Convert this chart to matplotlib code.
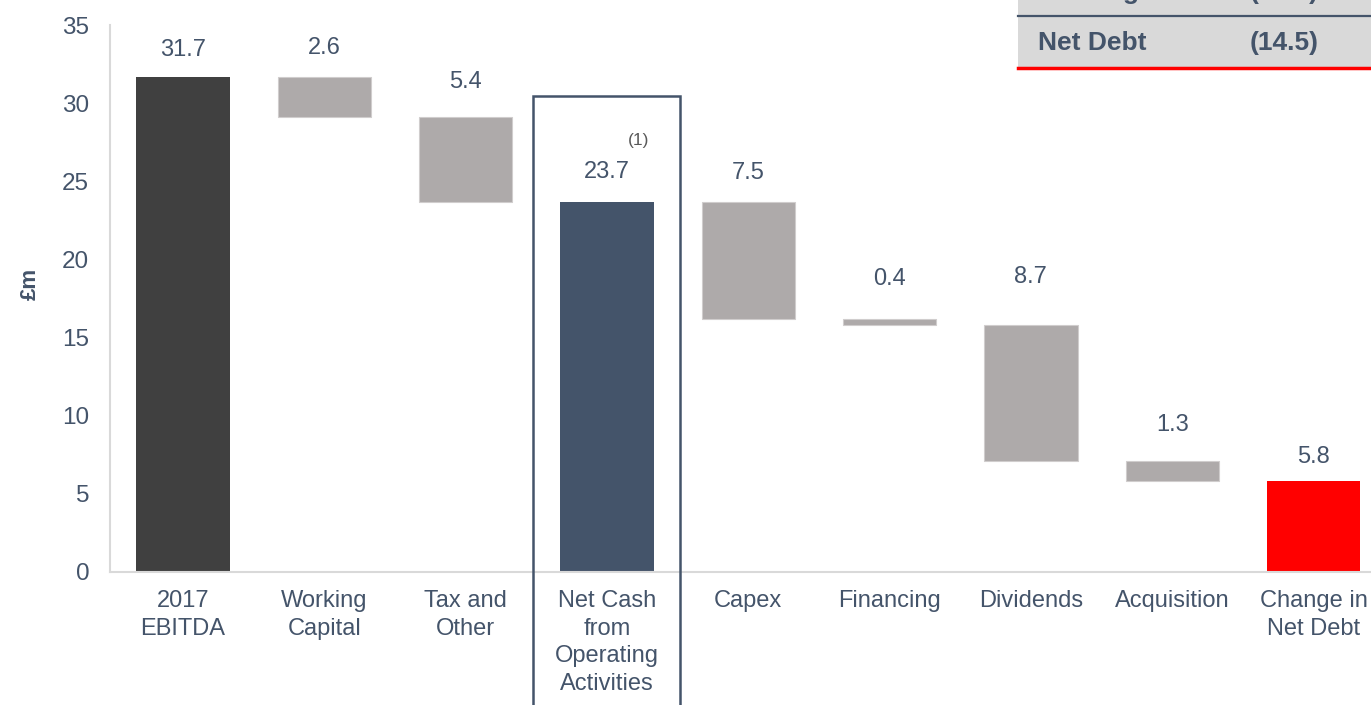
import matplotlib
matplotlib.use("Agg")
import matplotlib.pyplot as plt
from matplotlib.patches import Rectangle

plt.rcParams['font.family'] = ['Liberation Sans', 'DejaVu Sans']

# Cash flow bridge, £m
categories = ["2017\nEBITDA", "Working\nCapital", "Tax and\nOther",
              "Net Cash\nfrom\nOperating\nActivities", "Capex", "Financing",
              "Dividends", "Acquisition", "Change in\nNet Debt"]
values = [31.7, 2.6, 5.4, 23.7, 7.5, 0.4, 8.7, 1.3, 5.8]
is_total = [True, False, False, True, False, False, False, False, True]

table_rows = ["Leverage", "Net Debt"]
table_vals = ["(0.5x)", "(14.5)"]

TEXT = '#44546a'
GREY = '#aeaaaa'
colors = ['#404040', GREY, GREY, '#44546a', GREY, GREY, GREY, GREY, '#ff0000']
# gap between bar top and label baseline, in points
label_gap = [15, 16.5, 21, 17, 16, 24, 30, 21.5, 13]

fig = plt.figure(figsize=(13.71, 7.05), dpi=100)
ax = fig.add_axes([110 / 1371, 133 / 705, 1261 / 1371, 547 / 705])

x = list(range(len(categories)))
bottoms, heights = [], []
running = 0.0
for v, tot in zip(values, is_total):
    if tot:
        bottoms.append(0.0)
        heights.append(v)
        running = v
    else:
        bottoms.append(running - v)
        heights.append(v)
        running -= v

ax.bar(x, heights, bottom=bottoms, width=0.66, color=colors,
       edgecolor=['none' if c != GREY else '#d0cdcd' for c in colors],
       linewidth=0.8, zorder=2)

for xi, b, h, v, gap in zip(x, bottoms, heights, values, label_gap):
    ax.annotate(f"{v:.1f}", xy=(xi, b + h), xytext=(0, gap),
                textcoords='offset points', ha='center', va='baseline',
                fontsize=17, color=TEXT)

# footnote marker on operating cash
ax.annotate("(1)", xy=(3, values[3]), xytext=(23, 44),
            textcoords='offset points', ha='center', va='center',
            fontsize=12.5, color='#595959')

# highlight box around operating cash flow
ax.add_patch(Rectangle((2.48, -15), 1.04, 45.45, fill=False,
                       edgecolor='#44546a', linewidth=1.8, clip_on=False,
                       zorder=3))

ax.set_xlim(-0.517, 8.407)
ax.set_ylim(0, 35)
ax.set_yticks(range(0, 36, 5))
ax.set_xticks(x)
ax.set_xticklabels(categories, fontsize=17, color=TEXT, linespacing=1.33)
ax.tick_params(axis='y', length=0, pad=15, labelsize=17.5, labelcolor=TEXT)
ax.tick_params(axis='x', length=0, pad=13)
for side in ['top', 'right']:
    ax.spines[side].set_visible(False)
for side in ['left', 'bottom']:
    ax.spines[side].set_color('#d9d9d9')
    ax.spines[side].set_linewidth(1.5)

fig.text(30 / 1371, 1 - 284 / 705, "£m", rotation=90, ha='center',
         va='center', fontsize=16, fontweight='bold', color=TEXT)

# summary table in the top right corner
tx0 = 1018 / 1371
fig.patches.append(Rectangle((tx0, 1 - 68 / 705), 1 - tx0, 68 / 705,
                             transform=fig.transFigure, facecolor='#d9d9d9',
                             edgecolor='none', zorder=0))
fig.add_artist(plt.Line2D([tx0, 1], [1 - 16 / 705] * 2, color='#44546a',
                          linewidth=1.6, transform=fig.transFigure))
fig.add_artist(plt.Line2D([tx0, 1], [1 - 68 / 705] * 2, color='#ff0000',
                          linewidth=2.5, transform=fig.transFigure))
row_y = [1 + 0.5 / 705, 1 - 43 / 705]
row_va = ['baseline', 'center']
for name, val, y, va in zip(table_rows, table_vals, row_y, row_va):
    fig.text(1038 / 1371, y, name, ha='left', va=va, fontsize=19,
             fontweight='bold', color=TEXT)
    fig.text(1250 / 1371, y, val, ha='left', va=va, fontsize=19,
             fontweight='bold', color=TEXT)

fig.savefig("out.png", dpi=100)
